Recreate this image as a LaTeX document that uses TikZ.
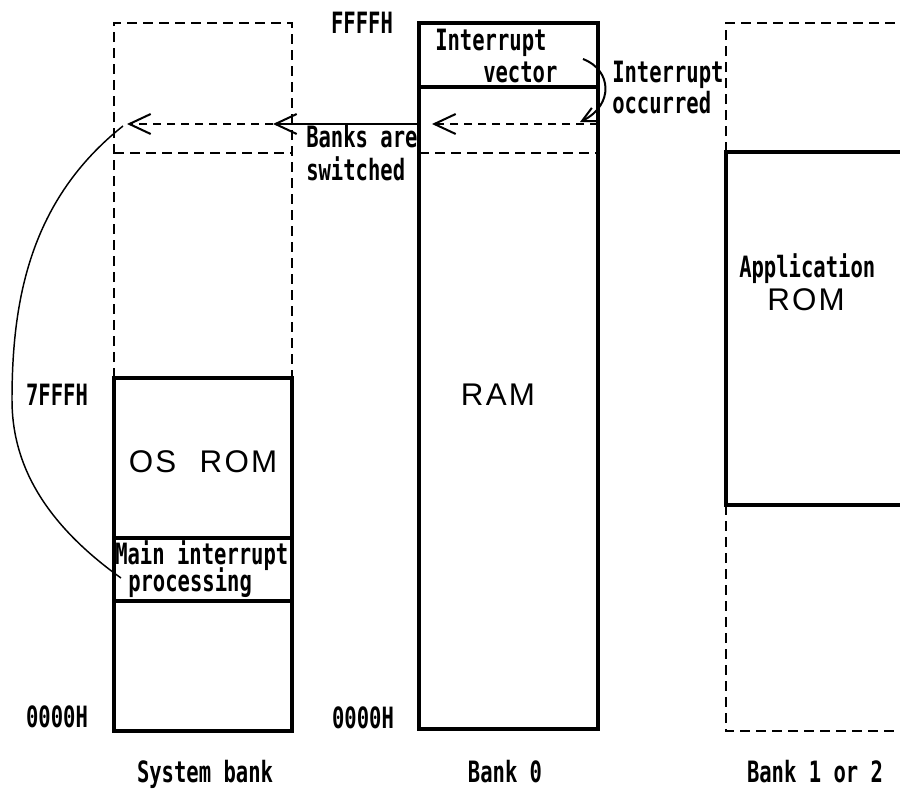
\documentclass[tikz,border=0pt]{standalone}
\usepackage{fontspec}
\setmainfont{Liberation Sans}
\newfontfamily\monolbl[FakeStretch=0.70]{DejaVu Sans Mono}
\usetikzlibrary{arrows.meta}

\begin{document}
\begin{tikzpicture}[x=0.75pt,y=-0.75pt,
  lbl/.style={font={\monolbl\bfseries\fontsize{22}{24}\selectfont}, inner sep=0pt},
  big/.style={font={\fontsize{23.5}{27}\selectfont}, inner sep=0pt},
  wall/.style={line width=2.5pt},
  dwall/.style={line width=1.7pt, dash pattern=on 7.5pt off 4.5pt},
  flow/.style={line width=1.4pt, dash pattern=on 6pt off 4.5pt},
  barb/.style={-{Straight Barb[length=16pt,width=15pt,line width=1.5pt]}},
  smallbarb/.style={-{Straight Barb[length=11pt,width=11pt,line width=1.5pt]}},
  link/.style={line width=1.1pt}]
\useasboundingbox (0,0) rectangle (900,793);

% ---- corner coordinates of the three banks
\coordinate (sTL) at (114,23);  \coordinate (sTR) at (292,23);
\coordinate (sRomL) at (114,378); \coordinate (sRomR) at (292,378);
\coordinate (sBL) at (114,731); \coordinate (sBR) at (292,731);
\coordinate (bTL) at (419,23);  \coordinate (bBR) at (598,729);
\coordinate (aTL) at (726,23);  \coordinate (aTR) at (900,23);
\coordinate (aRomTL) at (726,152); \coordinate (aRomTR) at (900,152);
\coordinate (aRomBL) at (726,505); \coordinate (aRomBR) at (900,505);
\coordinate (aBL) at (726,731); \coordinate (aBR) at (900,731);

% ---- system bank
\draw[dwall] (sRomL) -- (sTL) -- (sTR) -- (sRomR);
\draw[dwall] (114,153) -- (292,153);
\draw[wall] (sRomL) rectangle (sBR);
\draw[wall] (114,538) -- (292,538);
\draw[wall] (114,601) -- (292,601);

% ---- bank 0
\draw[wall] (bTL) rectangle (bBR);
\draw[wall] (419,87) -- (598,87);
\draw[dwall] (419,153) -- (598,153);

% ---- bank 1 or 2
\draw[dwall] (aRomTL) -- (aTL) -- (aTR);
\draw[dwall] (aRomBL) -- (aBL) -- (aBR);
\draw[wall] (aRomTR) -- (aRomTL) -- (aRomBL) -- (aRomBR);

% ---- address labels
\node[lbl, anchor=base] (ffff) at (362,33) {FFFFH};
\node[lbl, anchor=base] (sevenf) at (57,405) {7FFFH};
\node[lbl, anchor=base] (zeroS) at (57,727) {0000H};
\node[lbl, anchor=base] (zeroB) at (363,728) {0000H};

% ---- region labels
\node[lbl, anchor=base west] (ivA) at (435,50) {Interrupt};
\node[lbl, anchor=base west] (ivB) at (483,82) {vector};
\node[big, anchor=base] (ram) at (498,405) {R\kern.07em A\kern.07em M};
\node[big, anchor=base] (osrom) at (203,472) {O\kern.07em S\hspace{0.75em}R\kern.07em O\kern.07em M};
\node[lbl, anchor=base west] (mipA) at (115,564) {Main interrupt};
\node[lbl, anchor=base west] (mipB) at (128,591) {processing};
\node[lbl, anchor=base west] (appA) at (739,277) {Application};
\node[big, anchor=base west] (appB) at (767,310) {R\kern.07em O\kern.07em M};

% ---- event labels
\node[lbl, anchor=base west] (occA) at (612,82) {Interrupt};
\node[lbl, anchor=base west] (occB) at (612,113) {occurred};
\node[lbl, anchor=base west] (swA) at (306,147) {Banks are};
\node[lbl, anchor=base west] (swB) at (306,180) {switched};

% ---- bank names
\node[lbl, anchor=base] (nameS) at (205,782) {System bank};
\node[lbl, anchor=base] (nameB) at (505,782) {Bank 0};
\node[lbl, anchor=base] (nameA) at (815,782) {Bank 1 or 2};

% ---- vector fetch and bank switch
\coordinate (vecOut) at (583,59);
\coordinate (vecIn) at (580,122);
\coordinate (b0R) at (598,124);
\coordinate (b0Tip) at (432,124);
\coordinate (b0L) at (419,124);
\coordinate (sysTip) at (273,124);
\coordinate (sysTarget) at (127,124);
\coordinate (curveStart) at (123,126);
\coordinate (curveEnd) at (121,578);

\draw[link, line width=1.5pt, smallbarb] (vecOut) .. controls (612,70) and (614,105) .. (vecIn);
\draw[flow, barb] (b0R) -- (b0Tip);
\draw[wall, line width=1.8pt, barb] (b0L) -- (sysTip);
\draw[flow, barb] (sysTip) -- (sysTarget);
\draw[link] (curveStart) .. controls (30,200) and (12,300) .. (12,400)
  .. controls (12,460) and (40,520) .. (curveEnd);
\end{tikzpicture}
\end{document}
